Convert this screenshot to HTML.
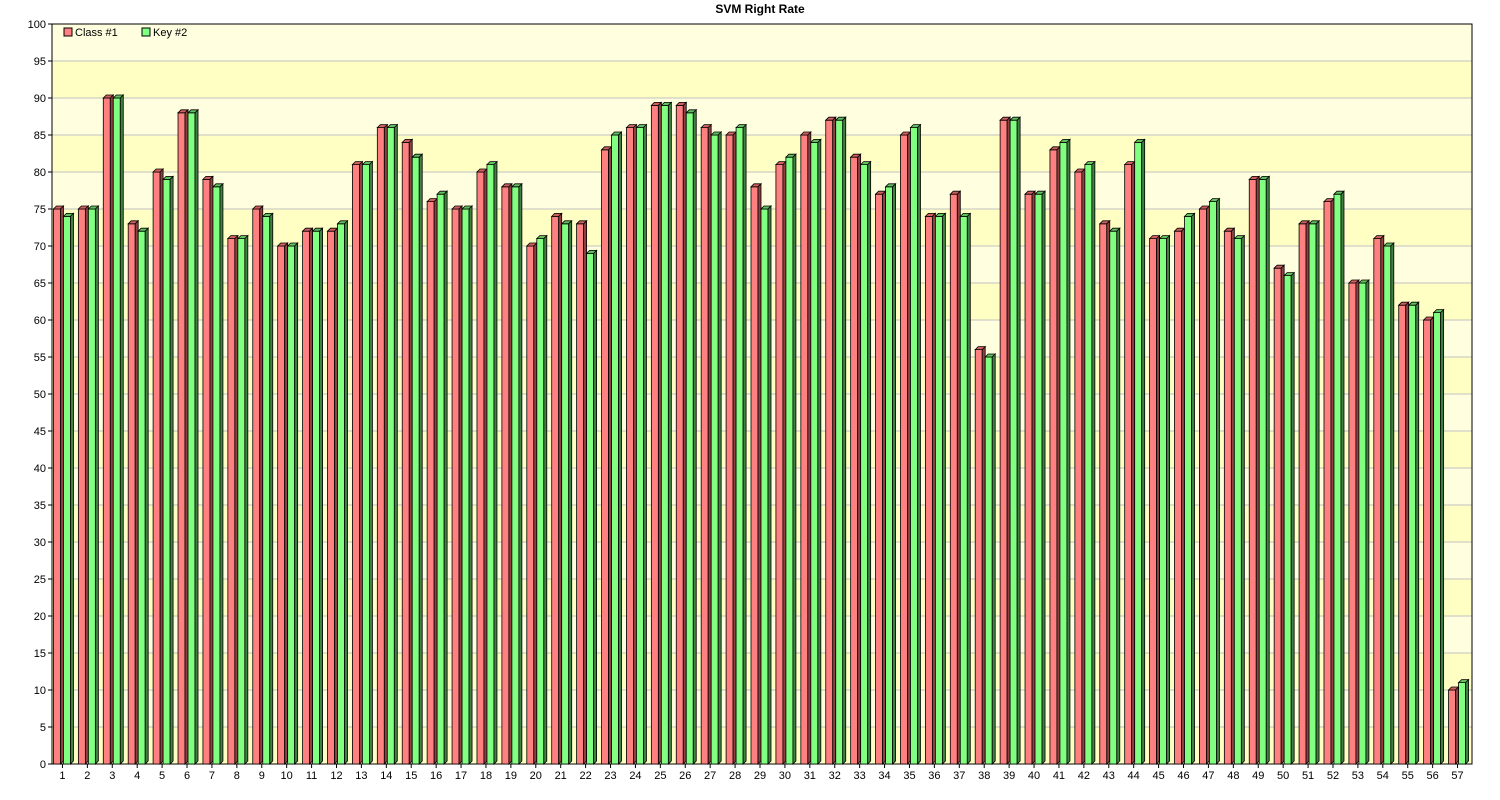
<!DOCTYPE html>
<html><head><meta charset="utf-8"><style>
body{margin:0;background:#fff;}
svg{display:block;font-family:"Liberation Sans",sans-serif;}
</style></head><body>
<svg id="c" width="1500" height="800">
<text x="760" y="13" text-anchor="middle" font-size="12" font-weight="bold">SVM Right Rate</text>
</svg>
<script>
const categories=[];for(let i=1;i<=57;i++)categories.push(String(i));
const classValues=[75,75,90,73,80,88,79,71,75,70,72,72,81,86,84,76,75,80,78,70,74,73,83,86,89,89,86,85,78,81,85,87,82,77,85,74,77,56,87,77,83,80,73,81,71,72,75,72,79,67,73,76,65,71,62,60,10];
const keyValues=[74,75,90,72,79,88,78,71,74,70,72,73,81,86,82,77,75,81,78,71,73,69,85,86,89,88,85,86,75,82,84,87,81,78,86,74,74,55,87,77,84,81,72,84,71,74,76,71,79,66,73,77,65,70,62,61,11];
const yTicks=[0,5,10,15,20,25,30,35,40,45,50,55,60,65,70,75,80,85,90,95,100];
const NS="http://www.w3.org/2000/svg";
const svg=document.getElementById('c');
const L=52,R=1472,T=24,B=764,D=3;
const y=v=>B-(v/100)*(B-T);
const step=(R-L)/categories.length;
const x=i=>L+i*step;
function mk(t,a,p){const e=document.createElementNS(NS,t);for(const k in a)e.setAttribute(k,a[k]);(p||svg).appendChild(e);return e;}
for(let i=0;i<20;i++){
  const b=mk('rect',{x:L,y:y((i+1)*5),width:R-L,height:y(i*5)-y((i+1)*5),fill:i%2?'#ffffe0':'#ffffc4'});
  
  
}
yTicks.forEach(v=>{
  if(v>0&&v<100){const g=mk('line',{x1:L,x2:R,y1:y(v),y2:y(v),stroke:'#c0c0c0'});
  
  }
  mk('line',{x1:L-4,x2:L,y1:y(v),y2:y(v),stroke:'#000'});
  const t=mk('text',{x:L-6,y:y(v)+4,'text-anchor':'end','font-size':11,fill:'#000'});
  t.textContent=v;
  
  
});
mk('rect',{x:L,y:T,width:R-L,height:B-T,fill:'none',stroke:'#000'});
function bar(x0,v,w,face,top,side,name){
  const g=mk('g',{});
  
  
  const yy=y(v);
  mk('rect',{x:x0,y:yy,width:w,height:B-yy,fill:face,stroke:'#000','stroke-width':0.8},g);
  mk('polygon',{points:`${x0},${yy} ${x0+D},${yy-D} ${x0+w+D},${yy-D} ${x0+w},${yy}`,fill:top,stroke:'#000','stroke-width':0.8},g);
  mk('polygon',{points:`${x0+w},${yy} ${x0+w+D},${yy-D} ${x0+w+D},${B-D} ${x0+w},${B}`,fill:side,stroke:'#000','stroke-width':0.8},g);
}
categories.forEach((c,i)=>{
  const cx=x(i)+step/2-2;
  bar(cx-9,classValues[i],7,'#ff8080','#d06060','#904040','bar-class1-'+c);
  bar(cx+1,keyValues[i],7,'#80ff80','#60c060','#408040','bar-key2-'+c);
  mk('line',{x1:cx,x2:cx,y1:B,y2:B+4,stroke:'#000'});
  const t=mk('text',{x:cx,y:B+15,'text-anchor':'middle','font-size':11,fill:'#000'});
  t.textContent=c;
  
  
});
[['Class #1','#ff8080',64,'legend-entry-class1'],['Key #2','#80ff80',142,'legend-entry-key2']].forEach(l=>{
  const g=mk('g',{});
  
  
  mk('rect',{x:l[2],y:28,width:8,height:8,fill:l[1],stroke:'#000'},g);
  const t=mk('text',{x:l[2]+11,y:36,'font-size':11},g);t.textContent=l[0];
});
</script>
</body></html>
